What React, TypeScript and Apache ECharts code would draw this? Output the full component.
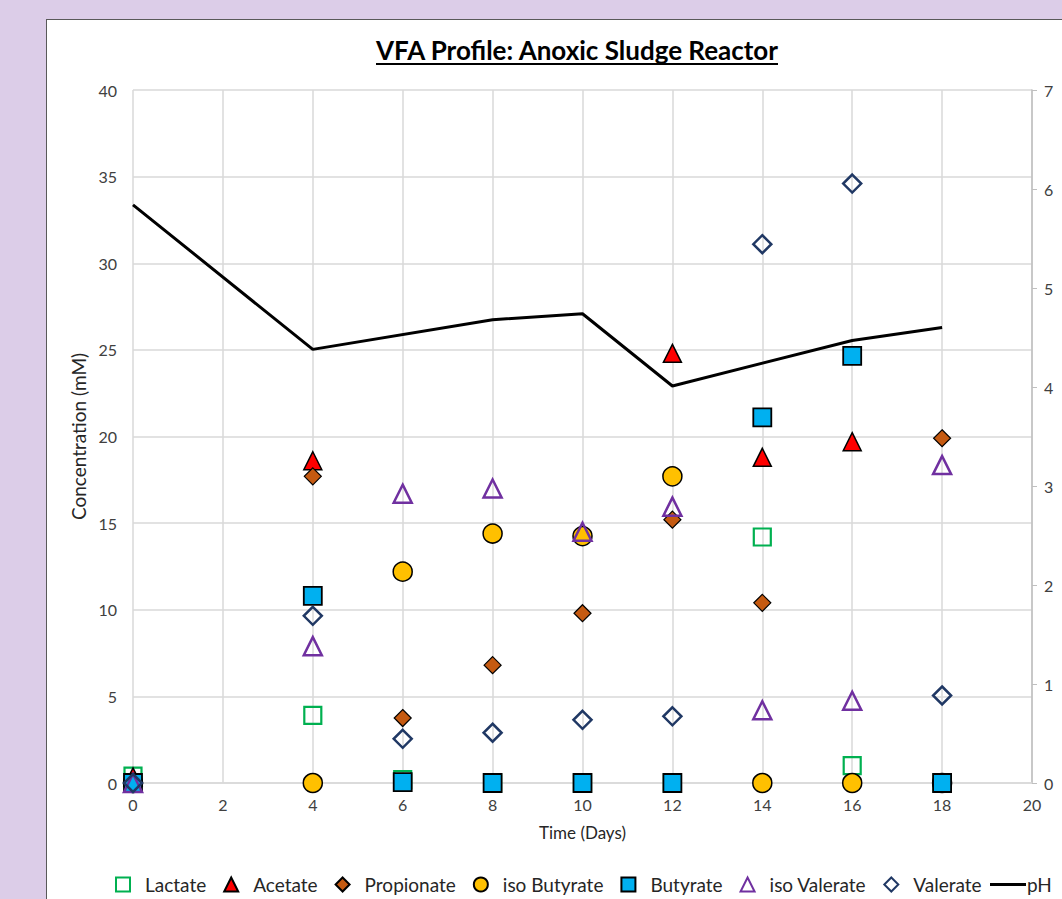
import React, { useEffect, useRef } from "react";
import * as echarts from "echarts";

const days = [0, 4, 6, 8, 10, 12, 14, 16, 18];
const lactate = [0.4, 3.9, 0.2, 0, 0, 0, 14.2, 1.0, 0];
const acetate = [0.35, 18.6, null, null, null, 24.8, 18.8, 19.7, null];
const propionate = [0, 17.7, 3.75, 6.8, 9.8, 15.2, 10.4, 0, 19.9];
const isoButyrate = [0, 0, 12.2, 14.4, 14.25, 17.7, 0, 0, 0];
const butyrate = [0, 10.8, 0.05, 0, 0, 0, 21.1, 24.65, 0];
const isoValerate = [0, 7.9, 16.7, 17.0, 14.5, 15.95, 4.2, 4.75, 18.35];
const valerate = [0, 9.65, 2.55, 2.9, 3.65, 3.85, 31.1, 34.6, 5.05];
const phDays = [0, 4, 8, 10, 12, 16, 18];
const ph = [5.84, 4.38, 4.68, 4.74, 4.01, 4.47, 4.6];

const FONT = "Lato";

const pts = (vals: (number | null)[]) =>
  days.map((d, i) => (vals[i] === null ? null : [d, vals[i]])).filter((p) => p !== null);

export default function App() {
  const ref = useRef<HTMLDivElement>(null);
  useEffect(() => {
    document.body.style.margin = "0";
    const chart = echarts.init(ref.current!, null, { renderer: "svg" });
    const scatter = (name: string, data: any, symbol: string, size: number, fill: string, border: string, bw: number) => ({
      name,
      type: "scatter",
      data,
      symbol,
      symbolSize: size,
      itemStyle: { color: fill, borderColor: border, borderWidth: bw, opacity: 1 },
      emphasis: { disabled: true },
    });
    chart.setOption({
      animation: false,
      textStyle: { fontFamily: FONT },
      grid: { left: 133, right: 30, top: 90, bottom: 116 },
      graphic: [
        {
          type: "text",
          x: 577,
          y: 37,
          style: {
            text: "VFA Profile: Anoxic Sludge Reactor",
            font: `bold 26px ${FONT}`,
            fill: "#000",
            textAlign: "center",
          },
        },
      ],
      xAxis: {
        type: "value",
        min: 0,
        max: 20,
        interval: 2,
        name: "Time (Days)",
        nameLocation: "middle",
        nameGap: 41,
        nameTextStyle: { fontSize: 17, color: "#262626", fontFamily: FONT },
        axisLine: { show: true, lineStyle: { color: "#d9d9d9", width: 1.5 } },
        axisTick: { show: false },
        axisLabel: { fontSize: 16, color: "#404040", margin: 13, fontFamily: FONT },
        splitLine: { show: true, lineStyle: { color: "#d9d9d9", width: 1.5 } },
      },
      yAxis: [
        {
          type: "value",
          min: 0,
          max: 40,
          interval: 5,
          name: "Concentration (mM)",
          nameLocation: "middle",
          nameGap: 38,
          nameTextStyle: { fontSize: 19, color: "#262626", fontFamily: FONT },
          axisLine: { show: false },
          axisTick: { show: false },
          axisLabel: { fontSize: 16, color: "#404040", margin: 16, fontFamily: FONT },
          splitLine: { show: true, lineStyle: { color: "#d9d9d9", width: 1.5 } },
        },
        {
          type: "value",
          min: 0,
          max: 7,
          interval: 1,
          position: "right",
          axisLine: { show: true, lineStyle: { color: "#bfbfbf", width: 1.5 } },
          axisTick: { show: true, length: 5, lineStyle: { color: "#bfbfbf" } },
          axisLabel: { fontSize: 16, color: "#404040", margin: 12, fontFamily: FONT },
          splitLine: { show: false },
        },
      ],
      legend: [
        {
          left: 110,
          top: 870,
          itemWidth: 14,
          itemHeight: 14,
          itemGap: 17,
          textStyle: { fontSize: 19, color: "#262626", fontFamily: FONT, padding: [0, 0, 0, 10] },
          data: ["Lactate", "Acetate", "Propionate", "iso Butyrate", "Butyrate", "iso Valerate", "Valerate"],
        },
        {
          left: 985,
          top: 870,
          itemWidth: 36,
          itemHeight: 3,
          itemGap: 0,
          textStyle: { fontSize: 19, color: "#262626", fontFamily: FONT, padding: [0, 0, 0, -4] },
          data: [{ name: "pH", icon: "rect" }],
        },
      ],
      series: [
        scatter("Lactate", pts(lactate), "rect", 17, "rgba(255,255,255,0)", "#00b050", 2.2),
        scatter("Acetate", pts(acetate), "triangle", 18, "#ff0000", "#000", 1.5),
        scatter("Propionate", pts(propionate), "diamond", 17, "#c55a11", "#000", 1.2),
        scatter("iso Butyrate", pts(isoButyrate), "circle", 19, "#ffc000", "#000", 1.5),
        scatter("Butyrate", pts(butyrate), "rect", 18, "#00b0f0", "#000", 1.8),
        scatter("iso Valerate", pts(isoValerate), "triangle", 18, "rgba(255,255,255,0)", "#7030a0", 2.5),
        scatter("Valerate", pts(valerate), "diamond", 18, "rgba(255,255,255,0)", "#203864", 2.5),
        {
          name: "pH",
          type: "line",
          yAxisIndex: 1,
          data: phDays.map((d, i) => [d, ph[i]]),
          symbol: "none",
          lineStyle: { color: "#000", width: 3 },
          itemStyle: { color: "#000" },
          emphasis: { disabled: true },
        },
      ],
    });
    return () => chart.dispose();
  }, []);
  return (
    <div style={{ position: "relative", width: 1062, height: 899, background: "#dccde8", overflow: "hidden" }}>
      <div
        style={{
          position: "absolute",
          left: 46,
          top: 19,
          width: 1100,
          height: 1000,
          background: "#fff",
          borderLeft: "1.5px solid #595959",
          borderTop: "1.5px solid #595959",
        }}
      />
      <div style={{ position: "absolute", left: 376, top: 63, width: 402, height: 2, background: "#000" }} />
      <div ref={ref} style={{ position: "absolute", left: 0, top: 0, width: 1062, height: 899 }} />
    </div>
  );
}
